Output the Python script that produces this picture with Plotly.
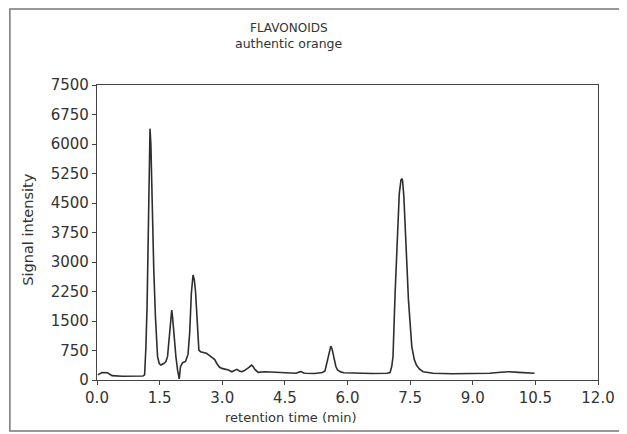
import plotly.graph_objects as go

# Retention time (min) and signal intensity
time_min = [0.02, 0.08, 0.12, 0.25, 0.30, 0.36, 0.60, 0.90, 1.10, 1.14, 1.17, 1.20, 1.23, 1.26, 1.27,
            1.29, 1.32, 1.36, 1.40, 1.45, 1.49, 1.53, 1.60, 1.65, 1.69, 1.73, 1.77, 1.79, 1.81, 1.85,
            1.89, 1.93, 1.97, 2.00, 2.05, 2.12, 2.18, 2.22, 2.26, 2.30, 2.33, 2.36, 2.40, 2.44, 2.48,
            2.56, 2.62, 2.68, 2.77, 2.82, 2.87, 2.93, 2.99, 3.07, 3.15, 3.23, 3.29, 3.35, 3.41, 3.47,
            3.53, 3.58, 3.64, 3.70, 3.74, 3.78, 3.86, 4.02, 4.26, 4.57, 4.77, 4.84, 4.89, 4.95, 5.00,
            5.21, 5.40, 5.46, 5.52, 5.57, 5.60, 5.63, 5.68, 5.72, 5.76, 5.85, 5.92, 6.20, 6.60, 6.95,
            7.02, 7.06, 7.09, 7.14, 7.20, 7.24, 7.28, 7.30, 7.32, 7.35, 7.40, 7.46, 7.54, 7.60, 7.65,
            7.72, 7.81, 7.95, 8.05, 8.50, 9.00, 9.40, 9.60, 9.86, 10.10, 10.30, 10.48]
signal = [130, 170, 190, 185, 160, 110, 95, 95, 100, 130, 800, 1900, 4200, 6100, 6390,
          6000, 4200, 2800, 1600, 600, 420, 380, 420, 470, 600, 1100, 1650, 1780, 1600, 1000,
          590, 250, 30, 340, 440, 470, 650, 1200, 2200, 2670, 2550, 2250, 1300, 760, 720,
          700, 680, 635, 575, 520, 420, 330, 295, 280, 255, 210, 240, 270, 230, 210,
          240, 270, 320, 380, 340, 270, 195, 210, 195, 170, 170, 200, 215, 180, 170,
          165, 190, 230, 510, 780, 860, 790, 510, 350, 255, 200, 185, 170, 165, 170,
          190, 350, 590, 2200, 3890, 4740, 5080, 5120, 5060, 4660, 3470, 2030, 850, 520, 380,
          280, 210, 180, 170, 160, 155, 170, 190, 210, 195, 175, 170]

x_ticks = [0.0, 1.5, 3.0, 4.5, 6.0, 7.5, 9.0, 10.5, 12.0]
x_tick_labels = ["0.0", "1.5", "3.0", "4.5", "6.0", "7.5", "9.0", "10.5", "12.0"]
y_ticks = [0, 750, 1500, 2250, 3000, 3750, 4500, 5250, 6000, 6750, 7500]
y_tick_labels = ["0", "750", "1500", "2250", "3000", "3750", "4500", "5250", "6000", "6750", "7500"]

title_text = "FLAVONOIDS"
subtitle_text = "authentic orange"
x_title = "retention time (min)"
y_title = "Signal intensity"

FONT = "DejaVu Sans"
INK = "#333333"

# page body has an 8px margin; plot area target: x 97..603, y 85..380 (window px)
PX0, PX1, PY0, PY1 = 97, 603, 85, 380
def px(x):
    return (x - PX0) / (PX1 - PX0)
def py(y):
    return (PY1 - y) / (PY1 - PY0)

fig = go.Figure()
fig.add_trace(go.Scatter(x=time_min, y=signal, mode="lines",
                         line=dict(color="#2e2e2e", width=1.6), showlegend=False,
                         hoverinfo="x+y"))

axis_common = dict(showgrid=False, zeroline=False, showline=True, linecolor="#444444",
                   linewidth=1.3, mirror=True, ticks="outside", ticklen=4,
                   tickcolor="#444444", tickwidth=1,
                   tickfont=dict(family=FONT, size=15, color=INK))

fig.update_layout(
    width=619, height=426,
    margin=dict(l=PX0 - 8, r=627 - PX1, t=PY0 - 8, b=434 - PY1),
    paper_bgcolor="white", plot_bgcolor="white",
    xaxis=dict(range=[0, 12], tickvals=x_ticks, ticktext=x_tick_labels, **axis_common),
    yaxis=dict(range=[0, 7500], tickvals=y_ticks, ticktext=y_tick_labels, **axis_common),
    shapes=[dict(type="rect", xref="paper", yref="paper",
                 x0=px(9), x1=px(660),
                 y0=py(431), y1=py(9),
                 line=dict(color="#777777", width=1.5), layer="below")],
    annotations=[
        dict(text=title_text, xref="paper", yref="paper", x=px(291), y=py(28),
             showarrow=False, xanchor="center", yanchor="middle",
             font=dict(family=FONT, size=12, color=INK)),
        dict(text=subtitle_text, xref="paper", yref="paper", x=px(291), y=py(44),
             showarrow=False, xanchor="center", yanchor="middle",
             font=dict(family=FONT, size=12.5, color=INK)),
        dict(text=x_title, xref="paper", yref="paper", x=px(293), y=py(417),
             showarrow=False, xanchor="center", yanchor="middle",
             font=dict(family=FONT, size=13, color=INK)),
        dict(text=y_title, xref="paper", yref="paper", x=px(27), y=py(230),
             showarrow=False, xanchor="center", yanchor="middle", textangle=-90,
             font=dict(family=FONT, size=14.5, color=INK)),
    ],
)

fig.write_html("out.html")
